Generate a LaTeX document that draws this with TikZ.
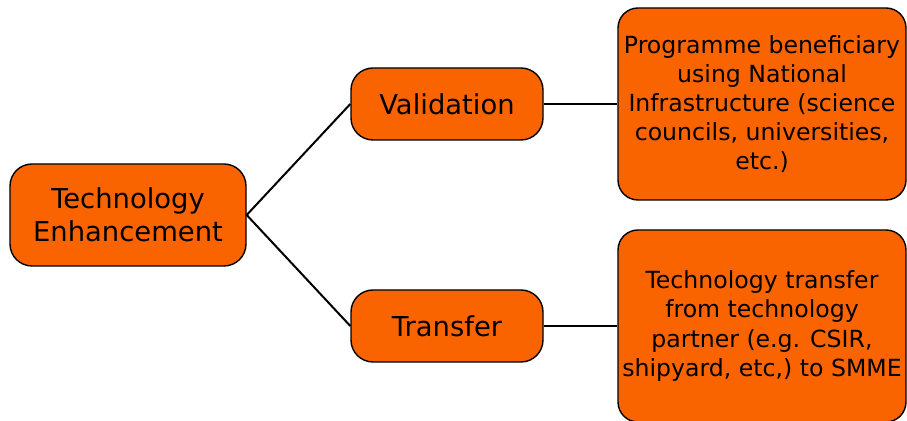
\documentclass[tikz,border=0pt]{standalone}
\usepackage{fontspec}
\setmainfont{DejaVu Sans}
\usepackage{xcolor}
\usepackage{tikz}
\usetikzlibrary{positioning}
\definecolor{boxorange}{RGB}{250,100,0}
\tikzstyle{topic}=[draw,rectangle,rounded corners=11pt,align=center,fill=boxorange,line width=0.7pt,inner sep=0pt,font=\fontsize{13.7}{16.5}\selectfont]
\tikzstyle{detail}=[draw,rectangle,rounded corners=10pt,align=center,fill=boxorange,line width=0.7pt,inner sep=0pt,minimum width=144pt,minimum height=96pt,font=\fontsize{11.8}{14.6}\selectfont]
\tikzstyle{link}=[draw,line width=1pt,black]

\begin{document}
\begin{tikzpicture}[x=0.5pt,y=-0.5pt]
	\useasboundingbox (0,0) rectangle (907,421);

	\node[topic,minimum width=118pt,minimum height=51pt] (te) at (128,215) {Technology\\Enhancement};
	\node[topic,minimum width=96pt,minimum height=36pt] (va) at (447,104) {Validation};
	\node[topic,minimum width=96pt,minimum height=36pt] (tr) at (447,326) {Transfer};

	\node[detail] (vad) at (762,104) {Programme beneficiary\\using National\\Infrastructure (science\\councils, universities,\\etc.)};
	\node[detail] (trd) at (762,326) {Technology transfer\\from technology\\partner (e.g. CSIR,\\shipyard, etc,) to SMME};

	\path[link] (te.east) -- (va.west);
	\path[link] (te.east) -- (tr.west);

	\path[link] (va.east) -- (vad.west);
	\path[link] (tr.east) -- (trd.west);

\end{tikzpicture}
\end{document}
